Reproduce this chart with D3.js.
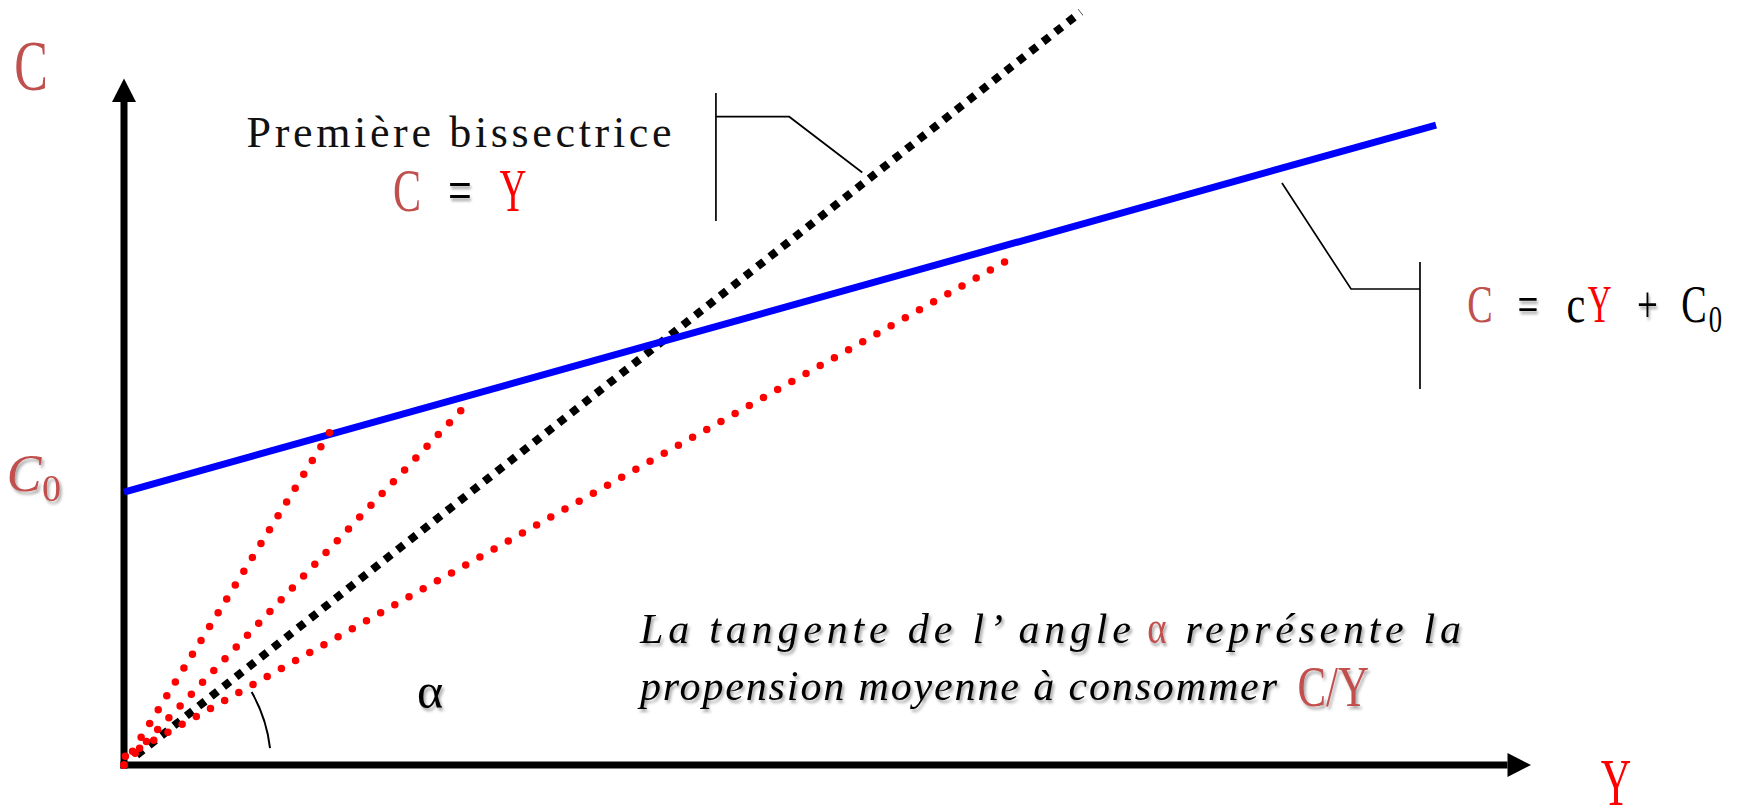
<!DOCTYPE html>
<html>
<head>
<meta charset="utf-8">
<script src="https://cdn.jsdelivr.net/npm/d3@7"></script>
<style>
  body { margin: 0; background: #fff; }
  svg { display: block; }
</style>
</head>
<body>
<svg id="chart" width="1741" height="810"></svg>
<script>
// chart units: Y (income) on x, C (consumption) on y
const domainY = [0, 100];
const domainC = [0, 62];

// C = cY + C0
const consumptionLine = [[0, 24.65], [93.25, 57.8]];
// first bisector C = Y
const bisector = [[0.9, 0.9], [68, 68]];
// rays from the origin, slope = C/Y
const avgRays = [
  [[0, 0], [14.6, 30.0]],
  [[0, 0], [24.73, 33.05]],
  [[0.1, 0.79], [63.59, 46.15]]
];
// leader lines (chart units)
const bisLeaderBar = [[42.07, 60.69], [42.07, 49.13]];
const bisLeader = [[42.07, 58.55], [47.28, 58.55], [52.47, 53.51]];
const consLeader = [[82.3, 52.56], [87.21, 42.99], [92.11, 42.99]];
const consLeaderBar = [[92.11, 45.43], [92.11, 33.96]];

const serif = '"Liberation Serif", "DejaVu Serif", serif';
const brick = '#C0504D';

const svg = d3.select('#chart');
const x = d3.scaleLinear().domain(domainY).range([124, 1531]);
const y = d3.scaleLinear().domain(domainC).range([765, 78.5]);

const defs = svg.append('defs');
defs.append('filter').attr('id', 'shadow')
  .attr('x', '-20%').attr('y', '-20%').attr('width', '140%').attr('height', '140%')
  .append('feDropShadow')
  .attr('dx', 2).attr('dy', 3).attr('stdDeviation', 1.6)
  .attr('flood-color', '#000').attr('flood-opacity', 0.35);

const line = d3.line().x(d => x(d[0])).y(d => y(d[1]));

// axes with arrow heads
const ox = x(0), oy = y(0), head = 23.5, half = 12;
svg.append('line')
  .attr('x1', ox).attr('y1', oy + 3.5).attr('x2', ox).attr('y2', y(domainC[1]) + head)
  .attr('stroke', '#000').attr('stroke-width', 7);
svg.append('line')
  .attr('x1', ox - 3.5).attr('y1', oy).attr('x2', x(domainY[1]) - head).attr('y2', oy)
  .attr('stroke', '#000').attr('stroke-width', 7);
svg.append('path')
  .attr('d', `M${ox},${y(domainC[1])}L${ox - half},${y(domainC[1]) + head}L${ox + half},${y(domainC[1]) + head}Z`)
  .attr('fill', '#000');
svg.append('path')
  .attr('d', `M${x(domainY[1])},${oy}L${x(domainY[1]) - head},${oy - half}L${x(domainY[1]) - head},${oy + half}Z`)
  .attr('fill', '#000');

// bisector (square dots)
svg.append('path')
  .attr('d', line(bisector))
  .attr('fill', 'none').attr('stroke', '#000')
  .attr('stroke-width', 8).attr('stroke-dasharray', '8 7.8');

// consumption function
svg.append('path')
  .attr('d', line(consumptionLine))
  .attr('fill', 'none').attr('stroke', '#0000FF').attr('stroke-width', 7);

// red dotted rays
svg.selectAll('.ray')
  .data(avgRays)
  .enter()
  .append('path')
  .attr('class', 'ray')
  .attr('d', d => line(d))
  .attr('fill', 'none').attr('stroke', '#FF0000')
  .attr('stroke-width', 7.5).attr('stroke-linecap', 'round')
  .attr('stroke-dasharray', function () {
    const len = this.getTotalLength();
    return '0 ' + (len / Math.round(len / 16.3));
  });

// leader lines
[bisLeaderBar, bisLeader, consLeader, consLeaderBar].forEach(pts => {
  svg.append('path')
    .attr('d', line(pts))
    .attr('fill', 'none').attr('stroke', '#000').attr('stroke-width', 1.7);
});

// angle arc on the widest ray
const longRay = avgRays[2][1];
const a0 = -Math.atan2(oy - y(longRay[1]), x(longRay[0]) - ox);
const arcPath = d3.path();
arcPath.arc(ox, oy, 147, a0, -0.115, false);
svg.append('path')
  .attr('d', arcPath.toString())
  .attr('fill', 'none').attr('stroke', '#000').attr('stroke-width', 2);

// text helpers
function glyph(cx, base, str, size, fill, sx, opts = {}) {
  const g = svg.append('g').attr('transform', `translate(${cx},${base}) scale(${sx},1)`);
  const t = g.append('text')
    .attr('text-anchor', 'middle')
    .attr('font-family', serif)
    .attr('font-size', size)
    .attr('font-style', opts.italic ? 'italic' : 'normal')
    .attr('fill', fill)
    .text(str);
  if (opts.shadow) t.attr('filter', 'url(#shadow)');
  return t;
}
function phrase(x0, base, str, size, width, fill, opts = {}) {
  const t = svg.append('text')
    .attr('x', x0).attr('y', base)
    .attr('font-family', serif)
    .attr('font-size', size)
    .attr('font-style', opts.italic ? 'italic' : 'normal')
    .attr('fill', fill)
    .attr('textLength', width)
    .attr('lengthAdjust', opts.adjust || 'spacing')
    .text(str);
  if (opts.shadow) t.attr('filter', 'url(#shadow)');
  return t;
}

// axis names
glyph(31, 90, 'C', 72, brick, 0.7);
glyph(1616, 805, 'Y', 68, '#FF0000', 0.62);

// C0 on the vertical axis
glyph(24, 490.7, 'C', 52, brick, 1, { italic: true, shadow: true });
glyph(51.5, 500.7, '0', 38, brick, 1, { shadow: true });

// bisector label
phrase(246.5, 147, 'Première bissectrice', 44, 425, '#111');
glyph(407, 210.5, 'C', 62, brick, 0.68);
glyph(460, 210.5, '=', 62, '#000', 0.68, { shadow: true });
glyph(513, 210.5, 'Y', 62, '#FF0000', 0.6);

// consumption function label
glyph(1480, 322, 'C', 53, brick, 0.72);
glyph(1528, 322, '=', 53, '#000', 0.7, { shadow: true });
glyph(1576, 322, 'c', 53, '#000', 0.8);
glyph(1599.5, 322, 'Y', 53, '#FF0000', 0.62);
glyph(1647.5, 322, '+', 53, '#000', 0.7, { shadow: true });
glyph(1694, 322, 'C', 53, '#000', 0.72);
glyph(1715.5, 331.7, '0', 38, '#000', 0.7);

// angle
glyph(430, 708, 'α', 50, '#000', 1, { shadow: true });

// explanation
phrase(640, 643, 'La tangente de l’ angle', 42, 491, '#000', { italic: true, shadow: true });
glyph(1157, 643, 'α', 46, brick, 0.8, { shadow: true });
phrase(1185.5, 643, 'représente la', 42, 275.5, '#000', { italic: true, shadow: true });
phrase(640, 700, 'propension moyenne à consommer', 42, 637, '#000', { italic: true, shadow: true });
phrase(1297.5, 706, 'C/Y', 56, 71.5, brick, { adjust: 'spacingAndGlyphs', shadow: true });
</script>
</body>
</html>
